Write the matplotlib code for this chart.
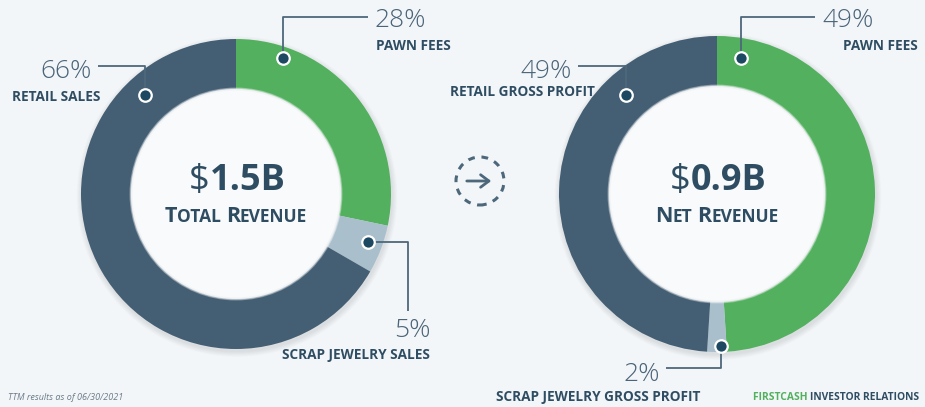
import numpy as np
import matplotlib.pyplot as plt
from matplotlib.patches import Circle

plt.rcParams['font.family'] = ['Open Sans', 'DejaVu Sans']

# data
left_labels = ['PAWN FEES', 'SCRAP JEWELRY SALES', 'RETAIL SALES']
left_values = [28, 5, 66]
left_total = '1.5B'
left_title = 'Total Revenue'
right_labels = ['PAWN FEES', 'SCRAP JEWELRY GROSS PROFIT', 'RETAIL GROSS PROFIT']
right_values = [49, 2, 49]
right_total = '0.9B'
right_title = 'Net Revenue'

W, H = 925, 407
BG = '#f3f6f9'
DARK = '#445f74'
GREEN = '#52b05e'
LIGHT = '#a9bfcc'
TXT = '#2f4d62'
LINE = '#4d687b'
DOT = '#1c4861'

fig = plt.figure(figsize=(W / 100, H / 100), dpi=100, facecolor=BG)
ax = fig.add_axes([0, 0, 1, 1])
ax.set_facecolor(BG)


def Y(y):
    return H - y


def donut(cx, cy, r, rin, values):
    # soft shadow below the ring
    for k in range(8):
        ax.add_patch(Circle((cx + 1, Y(cy) - 2.5), r + 0.5 + k * 0.7, color='#000000',
                            alpha=0.012, lw=0, zorder=1))
    ax.pie(values, center=(cx, Y(cy)), radius=r, startangle=90, counterclock=False,
           colors=[GREEN, LIGHT, DARK], wedgeprops=dict(width=r - rin, linewidth=0),
           normalize=True)
    # soft-edged inner disc
    for k in range(5):
        ax.add_patch(Circle((cx, Y(cy)), rin + 1.5 - k * 0.6, color='#f6f8fa',
                            alpha=0.35, lw=0, zorder=3))
    ax.add_patch(Circle((cx, Y(cy)), rin - 1.5, color='#f8fafc', lw=0, zorder=4))


def pieces(x, y, parts, ha='center'):
    # parts: list of (text, size, weight, color); draws a run of text on one baseline
    r = fig.canvas.get_renderer()
    objs = []
    for s, size, weight, col in parts:
        t = ax.text(0, Y(y), s, fontsize=size, fontweight=weight, color=col,
                    va='baseline', ha='left', zorder=6)
        objs.append(t)
    widths = [t.get_window_extent(r).width for t in objs]
    total = sum(widths)
    start = x - total / 2 if ha == 'center' else (x - total if ha == 'right' else x)
    for t, w in zip(objs, widths):
        t.set_x(start)
        start += w


def small_caps(x, y, text, big, small, color):
    parts = []
    for word_i, word in enumerate(text.split(' ')):
        if word_i:
            parts.append((' ', small, 'bold', color))
        parts.append((word[0].upper(), big, 'bold', color))
        parts.append((word[1:].upper(), small, 'bold', color))
    pieces(x, y, parts)


def leader(xs, ys, dot_xy):
    ax.plot(xs, [Y(v) for v in ys], color=LINE, lw=1.3, zorder=7, solid_capstyle='butt')
    ax.plot(dot_xy[0], Y(dot_xy[1]), 'o', ms=9, mfc=DOT, mec='white', mew=1.6, zorder=8)


# left donut
donut(236, 194, 155, 105, left_values)
pieces(237, 190, [('$', 26, 'normal', TXT), (left_total, 26, 'bold', TXT)])
small_caps(236, 222, left_title, 15.5, 12.5, TXT)

# right donut
donut(717, 194, 158, 108, right_values)
pieces(718, 190, [('$', 26, 'normal', TXT), (right_total, 26, 'bold', TXT)])
small_caps(717, 222, right_title, 15.5, 12.5, TXT)

pct_kw = dict(fontsize=19, fontweight='light', color='#4a6478', va='baseline', zorder=6)
lab_kw = dict(fontsize=9.8, fontweight='bold', color=TXT, va='baseline', zorder=6)

# left annotations
ax.text(92, Y(78), f'{left_values[2]}%', ha='right', **pct_kw)
ax.text(12, Y(101), left_labels[2], ha='left', **lab_kw)
leader([98, 145, 145], [66, 66, 95], (145, 95))

ax.text(374, Y(27), f'{left_values[0]}%', ha='left', **pct_kw)
ax.text(376, Y(50), left_labels[0], ha='left', **lab_kw)
leader([283, 283, 368], [58, 17, 17], (283, 58))

ax.text(431, Y(337), f'{left_values[1]}%', ha='right', **pct_kw)
ax.text(430, Y(359), left_labels[1], ha='right', **lab_kw)
leader([368, 408, 408], [242, 242, 311], (368, 242))

# right annotations
ax.text(572, Y(78), f'{right_values[2]}%', ha='right', **pct_kw)
ax.text(595, Y(96), right_labels[2], ha='right', **lab_kw)
leader([578, 626, 626], [66, 66, 95], (626, 95))

ax.text(822, Y(27), f'{right_values[0]}%', ha='left', **pct_kw)
ax.text(918, Y(50), right_labels[0], ha='right', **lab_kw)
leader([741, 741, 815], [58, 17, 17], (741, 58))

ax.text(660, Y(381), f'{right_values[1]}%', ha='right', **pct_kw)
ax.text(700, Y(401), right_labels[1], ha='right', **lab_kw)
leader([721, 721, 666], [346, 368, 368], (721, 346))

# arrow in dashed circle
ax.add_patch(Circle((480, Y(181)), 24, fill=False, ec=LINE, lw=2.2, ls=(0, (2.2, 2.2)),
                    zorder=6))
ax.annotate('', xy=(494, Y(181)), xytext=(464, Y(181)),
            arrowprops=dict(arrowstyle='->,head_length=0.6,head_width=0.45', color=LINE,
                            lw=2.0), zorder=6)

# footer
ax.text(8, Y(400), 'TTM results as of 06/30/2021', fontsize=6.5, style='italic',
        color='#6b7b88', ha='left', va='baseline')
pieces(753, 400, [('FIRSTCASH ', 7.4, 'bold', GREEN), ('INVESTOR RELATIONS', 7.4, 'bold', TXT)],
       ha='left')

ax.set_xlim(0, W)
ax.set_ylim(0, H)
ax.set_aspect('equal')
ax.axis('off')
fig.savefig('out.png', dpi=100, facecolor=BG)
